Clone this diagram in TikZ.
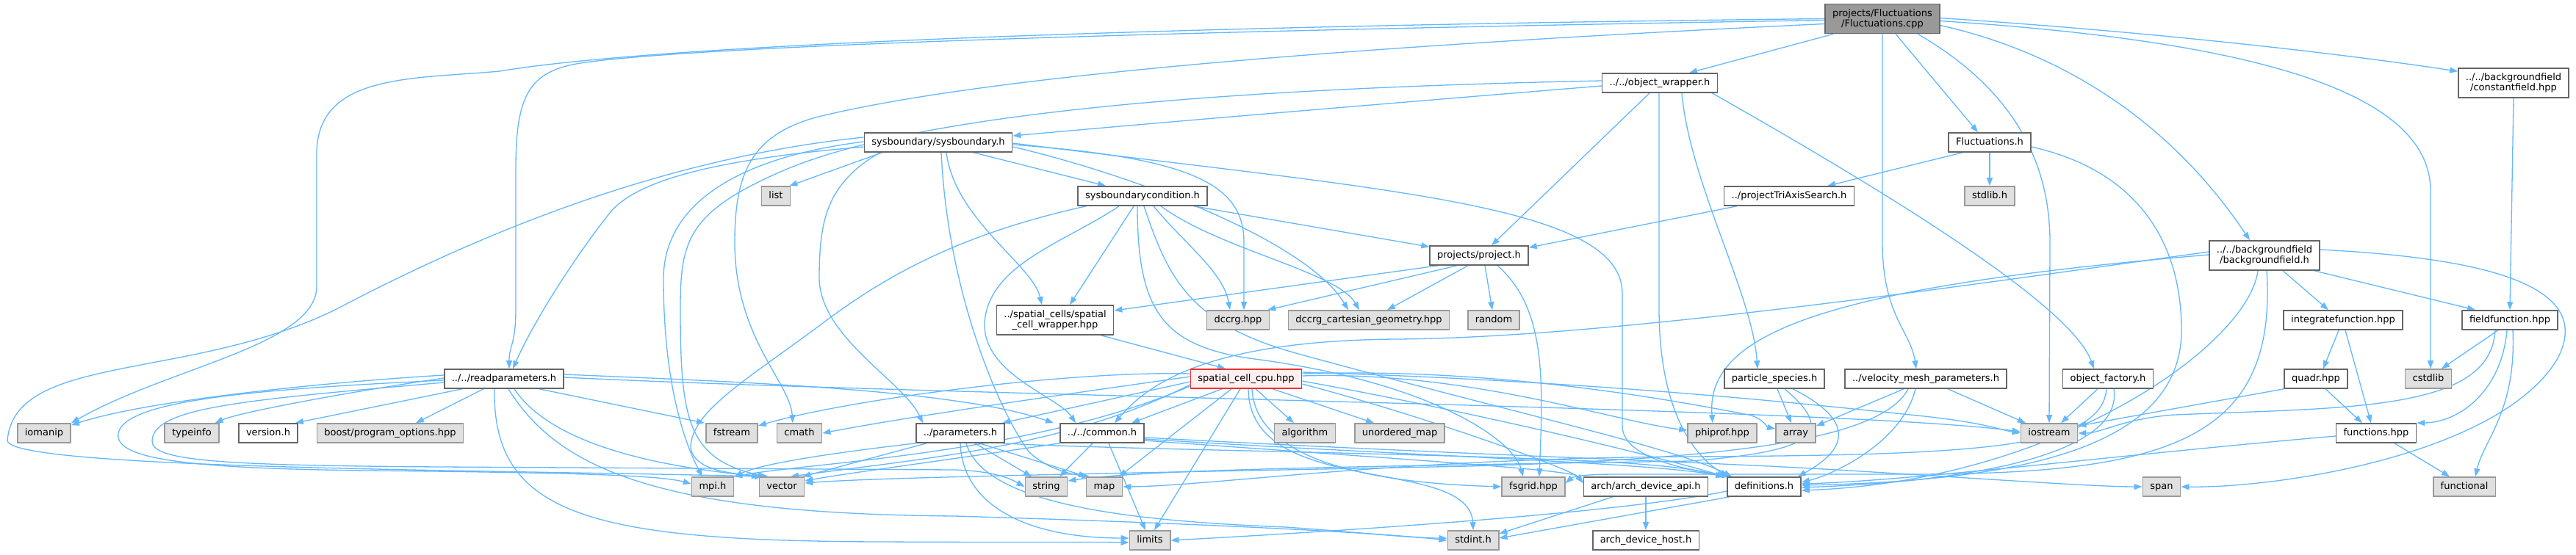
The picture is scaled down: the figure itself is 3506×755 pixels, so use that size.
\documentclass[tikz,border=0pt]{standalone}
\usepackage{fontspec}
\setmainfont{DejaVu Sans}
\usetikzlibrary{arrows.meta}
\definecolor{edgeblue}{HTML}{63B8FF}
\definecolor{sysfill}{HTML}{E0E0E0}
\definecolor{sysline}{HTML}{999999}
\definecolor{hdrline}{HTML}{666666}
\definecolor{rootfill}{HTML}{999999}
\definecolor{hotfill}{HTML}{FFF0F0}
\definecolor{hotline}{HTML}{F03030}
\pgfdeclarelayer{edges}
\pgfsetlayers{edges,main}
\tikzset{
  hdr/.style={draw=hdrline, fill=white, line width=1.6pt, inner xsep=10pt, inner ysep=0pt,
    minimum height=26pt, text height=9.9pt, text depth=3.1pt, align=center,
    font=\fontsize{13}{14}\selectfont},
  syshdr/.style={hdr, draw=sysline, fill=sysfill},
  rootfile/.style={hdr, fill=rootfill},
  hotfile/.style={hdr, draw=hotline, fill=hotfill},
  twoline/.style={minimum height=40pt, text height={}, text depth={}},
  dep/.style={draw=edgeblue, line width=1.3pt, -{Triangle[length=11pt,width=8pt]}}
}
\begin{document}
\begin{tikzpicture}[x=1pt,y=1pt]
\useasboundingbox (0,0) rectangle (3506,-755);
\node[rootfile,twoline] (fcpp) at (2562,-25.5) {projects/Fluctuations\\/Fluctuations.cpp};
\node[hdr] (objw) at (2259,-113) {../../object\_wrapper.h};
\node[hdr,twoline] (cfield) at (3421,-113) {../../backgroundfield\\/constantfield.hpp};
\node[hdr] (sysb) at (1277,-194) {sysboundary/sysboundary.h};
\node[hdr] (flh) at (2708,-194) {Fluctuations.h};
\node[syshdr] (list) at (1056,-267) {list};
\node[hdr] (sbc) at (1555,-267) {sysboundarycondition.h};
\node[hdr] (ptas) at (2435,-267) {../projectTriAxisSearch.h};
\node[syshdr] (stdlib) at (2708,-267) {stdlib.h};
\node[hdr] (proj) at (2013,-348) {projects/project.h};
\node[hdr,twoline] (bgf) at (3082,-348) {../../backgroundfield\\/backgroundfield.h};
\node[hdr,twoline] (scw) at (1436,-436) {../spatial\_cells/spatial\\\_cell\_wrapper.hpp};
\node[syshdr] (dccrg) at (1685,-436) {dccrg.hpp};
\node[syshdr] (dcg) at (1863,-436) {dccrg\_cartesian\_geometry.hpp};
\node[syshdr] (random) at (2033,-436) {random};
\node[hdr] (intf) at (3189,-436) {integratefunction.hpp};
\node[hdr] (fieldf) at (3416,-436) {fieldfunction.hpp};
\node[hdr] (readp) at (686,-516) {../../readparameters.h};
\node[hotfile] (scc) at (1696,-516) {spatial\_cell\_cpu.hpp};
\node[hdr] (psp) at (2415,-516) {particle\_species.h};
\node[hdr] (vmp) at (2621,-516) {../velocity\_mesh\_parameters.h};
\node[hdr] (ofac) at (2869,-516) {object\_factory.h};
\node[hdr] (quadr) at (3152,-516) {quadr.hpp};
\node[syshdr] (cstdlib) at (3305,-516) {cstdlib};
\node[syshdr] (iomanip) at (60,-590) {iomanip};
\node[syshdr] (typeinfo) at (261,-590) {typeinfo};
\node[hdr] (version) at (365,-590) {version.h};
\node[syshdr] (boost) at (531,-590) {boost/program\_options.hpp};
\node[syshdr] (fstream) at (996,-590) {fstream};
\node[syshdr] (cmath) at (1088,-590) {cmath};
\node[hdr] (params) at (1307,-590) {../parameters.h};
\node[hdr] (common) at (1500,-590) {../../common.h};
\node[syshdr] (algorithm) at (1776,-590) {algorithm};
\node[syshdr] (umap) at (1905,-590) {unordered\_map};
\node[syshdr] (phiprof) at (2344,-590) {phiprof.hpp};
\node[syshdr] (array) at (2444,-590) {array};
\node[syshdr] (iostream) at (2789,-590) {iostream};
\node[hdr] (functions) at (3234,-590) {functions.hpp};
\node[syshdr] (mpi) at (970,-663) {mpi.h};
\node[syshdr] (vector) at (1064,-663) {vector};
\node[syshdr] (string) at (1424,-663) {string};
\node[syshdr] (map) at (1503,-663) {map};
\node[syshdr] (fsgrid) at (2087,-663) {fsgrid.hpp};
\node[hdr] (archapi) at (2240,-663) {arch/arch\_device\_api.h};
\node[hdr] (defs) at (2401,-663) {definitions.h};
\node[syshdr] (span) at (2942,-663) {span};
\node[syshdr] (functional) at (3354,-663) {functional};
\node[syshdr] (limits) at (1565,-736) {limits};
\node[syshdr] (stdint) at (2005,-736) {stdint.h};
\node[hdr] (archhost) at (2240,-736) {arch\_device\_host.h};
\begin{pgfonlayer}{edges}
\fill[white] (0,0) rectangle (3506,-755);
\draw[dep] (fcpp.west) .. controls (1600,-35) and (900,-60) .. (680,-97) .. controls (560,-108) and (431,-100) .. (431,-210) -- (431,-390) .. controls (431,-470) and (230,-500) .. (iomanip.north east);
\draw[dep] ([yshift=-2pt]fcpp.west) .. controls (1600,-42) and (950,-62) .. (790,-86) .. controls (720,-97) and (702,-130) .. (702,-230) -- (702,-420) .. controls (702,-470) and (693,-470) .. ([xshift=7pt]readp.north);
\draw[dep] ([yshift=-7pt]fcpp.west) .. controls (1900,-60) and (1350,-100) .. (1110,-160) .. controls (1020,-185) and (1000,-240) .. (1000,-330) .. controls (1000,-460) and (1075,-520) .. ([xshift=-9pt]cmath.north);
\draw[dep] ([xshift=12pt]fcpp.south west) -- ([xshift=40pt]objw.north);
\draw[dep] (fcpp.south) -- (2562,-330) .. controls (2562,-430) and (2600,-450) .. ([xshift=-13pt]vmp.north);
\draw[dep] ([xshift=18pt]fcpp.south) -- ([xshift=-16pt]flh.north);
\draw[dep] ([xshift=48pt]fcpp.south) .. controls (2720,-110) and (2790,-200) .. (2790,-330) -- (iostream.north);
\draw[dep] ([yshift=-9pt]fcpp.east) .. controls (2800,-70) and (2950,-160) .. ([xshift=-20pt]bgf.north);
\draw[dep] ([yshift=-3pt]fcpp.east) .. controls (3050,-55) and (3308,-120) .. (3308,-260) -- ([xshift=3pt]cstdlib.north);
\draw[dep] ([yshift=1pt]fcpp.east) .. controls (2950,-45) and (3200,-75) .. ([yshift=-5pt]cfield.north west);
\draw[dep] ([yshift=-4pt]objw.west) .. controls (1900,-140) and (1600,-165) .. ([yshift=9pt]sysb.east);
\draw[dep] ([yshift=3pt]objw.west) .. controls (1700,-120) and (1250,-150) .. (1060,-235) .. controls (935,-290) and (926,-330) .. (926,-420) .. controls (926,-570) and (935,-625) .. ([xshift=-22pt]vector.north);
\draw[dep] ([xshift=-14pt]objw.south) -- ([xshift=17pt]proj.north);
\draw[dep] ([xshift=-1pt]objw.south) -- (2258,-420) .. controls (2258,-580) and (2320,-630) .. ([xshift=2pt]defs.north west);
\draw[dep] ([xshift=30pt]objw.south) .. controls (2300,-250) and (2385,-400) .. ([xshift=-23pt]psp.north);
\draw[dep] ([xshift=-8pt]objw.south east) .. controls (2600,-280) and (2820,-420) .. ([xshift=-19pt]ofac.north);
\draw[dep] ([xshift=25pt]sysb.south west) -- ([xshift=-2pt]list.north east);
\draw[dep] ([xshift=48pt]sysb.south) -- ([xshift=-50pt]sbc.north);
\draw[dep] ([yshift=-6pt]sysb.west) .. controls (1000,-215) and (870,-240) .. (830,-290) .. controls (790,-340) and (730,-430) .. ([xshift=12pt]readp.north);
\draw[dep] ([xshift=22pt]sysb.south west) .. controls (1125,-250) and (1115,-300) .. (1115,-380) .. controls (1117,-460) and (1230,-520) .. ([xshift=10pt]params.north west);
\draw[dep] ([yshift=1pt]sysb.west) .. controls (1000,-215) and (903,-280) .. (903,-380) .. controls (903,-530) and (935,-610) .. ([xshift=-14pt]mpi.north);
\draw[dep] ([yshift=7pt]sysb.west) .. controls (900,-215) and (650,-320) .. (460,-420) .. controls (260,-520) and (20,-480) .. (10,-600) .. controls (12,-640) and (700,-640) .. ([xshift=-26pt]vector.north);
\draw[dep] ([xshift=11pt]sysb.south) .. controls (1300,-300) and (1405,-360) .. ([xshift=-18pt]scw.north);
\draw[dep] ([xshift=4pt]sysb.south) .. controls (1290,-400) and (1360,-560) .. (1400,-615) .. controls (1420,-635) and (1450,-645) .. ([xshift=-20pt]map.north);
\draw[dep] ([yshift=-3pt]sysb.east) .. controls (1620,-215) and (1693,-250) .. (1693,-330) -- ([xshift=8pt]dccrg.north);
\draw[dep] ([yshift=-6pt]sysb.east) .. controls (1550,-240) and (1780,-330) .. ([xshift=-28pt]dcg.north);
\draw[dep] ([yshift=-1pt]sysb.east) .. controls (1900,-260) and (2208,-280) .. (2208,-400) -- (2208,-580) .. controls (2208,-625) and (2300,-640) .. ([xshift=4pt]defs.north west);
\draw[dep] ([xshift=-12pt]sbc.south) -- ([xshift=20pt]scw.north);
\draw[dep] ([xshift=-32pt]sbc.south) .. controls (1450,-330) and (1345,-360) .. (1340,-440) .. controls (1338,-510) and (1440,-540) .. ([xshift=-36pt]common.north);
\draw[dep] ([xshift=12pt]sbc.south west) .. controls (1300,-320) and (1200,-380) .. (1120,-440) .. controls (1020,-515) and (940,-560) .. (940,-610) .. controls (945,-640) and (990,-645) .. ([xshift=-18pt]vector.north);
\draw[dep] ([xshift=15pt]sbc.south) .. controls (1610,-330) and (1665,-370) .. ([xshift=-11pt]dccrg.north);
\draw[dep] ([xshift=25pt]sbc.south) .. controls (1660,-340) and (1820,-370) .. ([xshift=-13pt]dcg.north);
\draw[dep] ([xshift=-19pt]sbc.south east) -- ([yshift=-2pt]proj.north west);
\draw[dep] ([xshift=-7pt]sbc.south) .. controls (1548,-420) and (1580,-470) .. (1700,-488) .. controls (1950,-520) and (2060,-600) .. ([xshift=-14pt]fsgrid.north);
\draw[dep] ([xshift=2pt]sbc.south) .. controls (1590,-380) and (1620,-440) .. (1760,-480) .. controls (2050,-560) and (2280,-610) .. ([xshift=7pt]defs.north west);
\draw[dep] ([xshift=12pt]proj.south west) -- ([yshift=13pt]scw.east);
\draw[dep] ([xshift=-30pt]proj.south) -- ([xshift=-3pt]dccrg.north east);
\draw[dep] ([xshift=-15pt]proj.south) -- ([xshift=25pt]dcg.north);
\draw[dep] ([xshift=8pt]proj.south) -- ([xshift=-2pt]random.north);
\draw[dep] ([xshift=25pt]proj.south) .. controls (2105,-420) and (2100,-520) .. ([xshift=8pt]fsgrid.north);
\draw[dep] ([xshift=-37pt]flh.south) -- ([xshift=-37pt]ptas.north east);
\draw[dep] (flh.south) -- (stdlib.north);
\draw[dep] ([yshift=-6pt]flh.east) .. controls (2900,-230) and (2969,-320) .. (2969,-450) .. controls (2969,-610) and (2750,-655) .. ([yshift=2pt]defs.east);
\draw[dep] ([xshift=18pt]ptas.south west) -- ([yshift=-3pt]proj.north east);
\draw[dep] ([yshift=5pt]bgf.west) .. controls (2700,-385) and (2200,-460) .. (1900,-462) .. controls (1650,-464) and (1565,-520) .. ([xshift=17pt]common.north);
\draw[dep] ([yshift=1pt]bgf.west) .. controls (2500,-390) and (2320,-450) .. ([xshift=-13pt]phiprof.north);
\draw[dep] ([xshift=-9pt]bgf.south) .. controls (3060,-470) and (2800,-655) .. ([yshift=-5pt]defs.east);
\draw[dep] ([xshift=3pt]bgf.south) .. controls (3100,-600) and (2950,-646) .. (2600,-646) -- (2200,-646) .. controls (2150,-646) and (2140,-650) .. ([yshift=5pt]fsgrid.east);
\draw[dep] ([xshift=25pt]bgf.south) -- ([xshift=-20pt]intf.north);
\draw[dep] ([xshift=-8pt]bgf.south east) -- ([xshift=-47pt]fieldf.north);
\draw[dep] ([yshift=8pt]bgf.east) .. controls (3350,-350) and (3540,-380) .. (3480,-490) .. controls (3400,-620) and (3100,-665) .. (span.east);
\draw[dep] (cfield.south) -- (fieldf.north);
\draw[dep] ([xshift=-18pt]scw.south east) -- ([xshift=-28pt]scc.north);
\draw[dep] ([xshift=-6pt]intf.south) -- ([xshift=10pt]quadr.north);
\draw[dep] ([xshift=3pt]intf.south) -- ([xshift=-7pt]functions.north);
\draw[dep] ([xshift=-16pt]fieldf.south) -- ([xshift=18pt]cstdlib.north);
\draw[dep] ([xshift=-4pt]fieldf.south) .. controls (3405,-530) and (3350,-575) .. (functions.north east);
\draw[dep] ([xshift=4pt]fieldf.south) .. controls (3425,-560) and (3380,-600) .. ([xshift=15pt]functional.north);
\draw[dep] ([xshift=-20pt]fieldf.south) .. controls (3390,-560) and (3200,-555) .. (2960,-565) .. controls (2890,-570) and (2860,-590) .. (iostream.east);
\draw[dep] (quadr.south west) -- ([yshift=-4pt]iostream.north east);
\draw[dep] ([xshift=13pt]quadr.south) -- ([xshift=-19pt]functions.north);
\draw[dep] ([xshift=4pt]psp.south) -- ([xshift=-6pt]array.north);
\draw[dep] ([xshift=25pt]psp.south) .. controls (2540,-580) and (2500,-620) .. ([xshift=-5pt]defs.north east);
\draw[dep] ([xshift=14pt]psp.south) .. controls (2500,-590) and (2470,-615) .. (2300,-628) .. controls (1800,-636) and (1560,-640) .. ([yshift=8pt]string.east);
\draw[dep] ([xshift=-30pt]vmp.south) -- ([yshift=-4pt]array.north east);
\draw[dep] ([xshift=30pt]vmp.south) -- ([xshift=-32pt]iostream.north);
\draw[dep] ([xshift=-14pt]vmp.south) .. controls (2590,-600) and (2500,-645) .. ([yshift=6pt]defs.east);
\draw[dep] ([xshift=-24pt]vmp.south) .. controls (2560,-600) and (2350,-625) .. (2000,-635) .. controls (1500,-645) and (1200,-650) .. ([yshift=5pt]vector.east);
\draw[dep] ([xshift=-14pt]ofac.south) -- ([xshift=16pt]iostream.north);
\draw[dep] ([xshift=8pt]ofac.south) .. controls (2890,-615) and (2700,-655) .. ([yshift=-1pt]defs.east);
\draw[dep] ([xshift=-2pt]ofac.south) .. controls (2860,-610) and (2700,-620) .. (2300,-622) .. controls (1900,-624) and (1650,-662) .. (map.east);
\draw[dep] ([xshift=25pt]functions.south) -- ([xshift=-20pt]functional.north);
\draw[dep] ([yshift=-4pt]functions.west) .. controls (2900,-618) and (2600,-655) .. ([yshift=4pt]defs.east);
\draw[dep] ([yshift=-4pt]scc.west) -- ([xshift=-4pt]params.north east);
\draw[dep] ([xshift=-33pt]scc.south) -- ([xshift=40pt]common.north);
\draw[dep] ([xshift=-20pt]scc.south) -- ([xshift=20pt]map.north);
\draw[dep] ([xshift=-8pt]scc.south) -- ([xshift=6pt]limits.north);
\draw[dep] ([xshift=13pt]scc.south) -- ([xshift=-15pt]algorithm.north);
\draw[dep] ([xshift=36pt]scc.south) -- ([xshift=-35pt]umap.north);
\draw[dep] ([xshift=3pt]scc.south) .. controls (1700,-680) and (2000,-620) .. (stdint.north);
\draw[dep] ([xshift=8pt]scc.south) .. controls (1710,-650) and (1950,-660) .. (fsgrid.west);
\draw[dep] ([yshift=3pt]scc.west) .. controls (1500,-530) and (1250,-565) .. (cmath.east);
\draw[dep] ([yshift=7pt]scc.west) .. controls (1450,-505) and (1150,-545) .. ([yshift=10pt]fstream.east);
\draw[dep] ([yshift=-8pt]scc.west) .. controls (1450,-610) and (1250,-625) .. ([xshift=12pt]vector.north);
\draw[dep] ([yshift=-10pt]scc.west) .. controls (1400,-620) and (1100,-630) .. (mpi.north east);
\draw[dep] ([yshift=4pt]scc.east) .. controls (2000,-505) and (2200,-575) .. ([yshift=4pt]phiprof.west);
\draw[dep] ([yshift=7pt]scc.east) .. controls (2050,-500) and (2300,-550) .. (2380,-565) .. controls (2400,-570) and (2405,-582) .. ([yshift=6pt]array.west);
\draw[dep] ([yshift=9pt]scc.east) .. controls (2200,-520) and (2500,-555) .. (2600,-565) .. controls (2700,-575) and (2720,-585) .. (iostream.west);
\draw[dep] ([yshift=-3pt]scc.east) .. controls (2000,-560) and (2250,-620) .. ([xshift=-2pt]defs.north west);
\draw[dep] ([yshift=-7pt]scc.east) .. controls (1950,-570) and (2140,-640) .. ([yshift=5pt]archapi.west);
\draw[dep] (params.south west) .. controls (1150,-615) and (1040,-630) .. (mpi.north east);
\draw[dep] ([xshift=15pt]params.south west) -- ([xshift=-3pt]vector.north east);
\draw[dep] ([xshift=20pt]params.south) -- ([xshift=-20pt]string.north);
\draw[dep] ([xshift=26pt]params.south) -- ([xshift=-24pt]map.north);
\draw[dep] (params.south) .. controls (1310,-690) and (1400,-733) .. ([yshift=3pt]limits.west);
\draw[dep] ([xshift=8pt]params.south) .. controls (1340,-690) and (1550,-710) .. (1750,-718) .. controls (1850,-725) and (1920,-733) .. ([yshift=3pt]stdint.west);
\draw[dep] ([xshift=-3pt]params.south east) .. controls (1500,-612) and (2000,-618) .. (2200,-630) .. controls (2300,-636) and (2330,-645) .. ([xshift=-1pt]defs.north west);
\draw[dep] ([xshift=-13pt]common.south) -- ([xshift=18pt]string.north);
\draw[dep] ([xshift=9pt]common.south) -- ([xshift=-6pt]limits.north);
\draw[dep] (common.south west) .. controls (1300,-625) and (1150,-645) .. ([yshift=8pt]vector.east);
\draw[dep] ([yshift=-8pt]common.east) .. controls (1900,-620) and (2250,-630) .. ([xshift=-4pt]defs.north west);
\draw[dep] ([yshift=-10pt]common.east) .. controls (1900,-625) and (2140,-640) .. ([yshift=6pt]archapi.west);
\draw[dep] ([yshift=-6pt]common.east) .. controls (2000,-620) and (2300,-628) .. (2500,-640) .. controls (2700,-652) and (2850,-663) .. (span.west);
\draw[dep] ([yshift=-6pt]defs.west) .. controls (2200,-700) and (1800,-725) .. (limits.east);
\draw[dep] ([xshift=4pt]defs.south west) -- ([yshift=3pt]stdint.east);
\draw[dep] (archapi.south) -- (archhost.north);
\draw[dep] ([xshift=-45pt]archapi.south) -- ([yshift=9pt]stdint.east);
\draw[dep] ([yshift=5pt]readp.west) .. controls (450,-520) and (200,-545) .. ([yshift=-3pt]iomanip.north east);
\draw[dep] ([yshift=1pt]readp.west) .. controls (500,-530) and (330,-560) .. ([xshift=-6pt]typeinfo.north east);
\draw[dep] ([xshift=25pt]readp.south west) -- ([xshift=-4pt]version.north east);
\draw[dep] ([xshift=-28pt]readp.south) -- ([xshift=35pt]boost.north);
\draw[dep] ([xshift=48pt]readp.south) -- ([xshift=-37pt]fstream.north);
\draw[dep] ([xshift=14pt]readp.south) .. controls (760,-620) and (950,-640) .. ([xshift=-30pt]vector.north);
\draw[dep] ([yshift=-2pt]readp.west) .. controls (350,-530) and (170,-545) .. (161,-590) .. controls (155,-625) and (250,-638) .. (500,-641) .. controls (800,-644) and (900,-648) .. ([yshift=4pt]mpi.west);
\draw[dep] ([yshift=-5pt]readp.west) .. controls (330,-545) and (210,-555) .. (207,-600) .. controls (205,-628) and (300,-634) .. (600,-636) -- (1300,-640) .. controls (1360,-642) and (1380,-655) .. (string.west);
\draw[dep] ([xshift=-13pt]readp.south) .. controls (670,-700) and (800,-737) .. (1200,-738) .. controls (1400,-739) and (1480,-738) .. ([yshift=-3pt]limits.west);
\draw[dep] ([xshift=6pt]readp.south) .. controls (760,-640) and (900,-700) .. (1300,-703) .. controls (1700,-715) and (1900,-728) .. (stdint.west);
\draw[dep] ([yshift=6pt]readp.east) .. controls (1000,-520) and (1300,-530) .. ([xshift=-8pt]common.north west);
\draw[dep] ([yshift=2pt]readp.east) .. controls (1300,-540) and (2500,-555) .. ([yshift=2pt]iostream.west);
\end{pgfonlayer}
\end{tikzpicture}
\end{document}
